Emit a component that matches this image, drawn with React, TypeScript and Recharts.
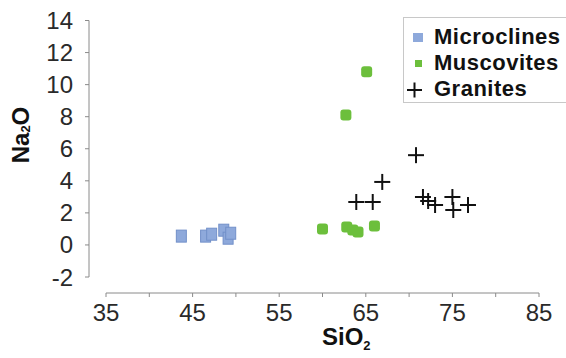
import { Legend, Scatter, ScatterChart, XAxis, YAxis } from "recharts";

const FONT = '"Liberation Sans", Arial, sans-serif';

const SERIES_NAMES = ["Microclines", "Muscovites", "Granites"];

const MICROCLINE_SIO2 = [43.7, 46.5, 47.2, 48.6, 49.1, 49.4];
const MICROCLINE_NA2O = [0.55, 0.55, 0.67, 0.92, 0.42, 0.73];

const MUSCOVITE_SIO2 = [60.0, 62.8, 63.5, 64.1, 66.0, 62.7, 65.1];
const MUSCOVITE_NA2O = [1.0, 1.12, 0.93, 0.81, 1.18, 8.1, 10.8];

const GRANITE_SIO2 = [70.8, 66.9, 63.9, 65.8, 71.6, 72.2, 73.0, 75.0, 75.1, 76.8];
const GRANITE_NA2O = [5.6, 3.93, 2.68, 2.68, 2.99, 2.74, 2.49, 2.99, 2.18, 2.49];

const X_TICKS = [35, 40, 45, 50, 55, 60, 65, 70, 75, 80, 85];
const Y_TICKS = [-2, 0, 2, 4, 6, 8, 10, 12, 14];

const BLUE = "#8ea9db";
const BLUE_EDGE = "#7290c9";
const GREEN = "#6cbf3c";
const AXIS = "#8a8a8a";

const toPoints = (xs: number[], ys: number[]) =>
  xs.map((x, i) => ({ x, y: ys[i] }));

type MarkProps = { cx?: number; cy?: number };

function SquareMark({ cx, cy }: MarkProps) {
  if (cx == null || cy == null) return null;
  return (
    <rect
      x={cx - 5}
      y={cy - 6}
      width={10}
      height={12}
      fill={BLUE}
      stroke={BLUE_EDGE}
      strokeWidth={1}
    />
  );
}

function GreenMark({ cx, cy }: MarkProps) {
  if (cx == null || cy == null) return null;
  return (
    <rect x={cx - 5.5} y={cy - 5.5} width={11} height={11} rx={3} fill={GREEN} />
  );
}

function PlusMark({ cx, cy }: MarkProps) {
  if (cx == null || cy == null) return null;
  return (
    <g stroke="#111" strokeWidth={2}>
      <line x1={cx - 8} y1={cy} x2={cx + 8} y2={cy} />
      <line x1={cx} y1={cy - 8} x2={cx} y2={cy + 8} />
    </g>
  );
}

function LegendIcon({ index }: { index: number }) {
  return (
    <svg width={30} height={20}>
      {index === 0 && <rect x={9} y={6} width={10} height={9} fill={BLUE} />}
      {index === 1 && <rect x={11} y={7} width={7} height={7} fill={GREEN} />}
      {index === 2 && (
        <g stroke="#111" strokeWidth={2}>
          <line x1={3} y1={11} x2={18} y2={11} />
          <line x1={10.5} y1={3.5} x2={10.5} y2={18.5} />
        </g>
      )}
    </svg>
  );
}

function LegendBox() {
  return (
    <div
      style={{
        boxSizing: "border-box",
        width: 163,
        height: 86,
        border: "1px solid #c8c8c8",
        borderRight: "none",
        background: "#fff",
        paddingTop: 6,
        fontFamily: FONT,
        fontWeight: 700,
        fontSize: 22,
        color: "#111",
      }}
    >
      {SERIES_NAMES.map((name, i) => (
        <div
          key={name}
          style={{ display: "flex", alignItems: "center", height: 26 }}
        >
          <LegendIcon index={i} />
          <span style={{ letterSpacing: 0.5 }}>{name}</span>
        </div>
      ))}
    </div>
  );
}

function XTitle() {
  return (
    <text
      x={322}
      y={345}
      fontFamily={FONT}
      fontWeight={700}
      fontSize={24}
      fill="#111"
    >
      SiO
      <tspan fontSize={13} dy={5}>
        2
      </tspan>
    </text>
  );
}

function YTitle() {
  return (
    <text
      x={20}
      y={135}
      transform="rotate(-90, 20, 135)"
      textAnchor="middle"
      dominantBaseline="central"
      fontFamily={FONT}
      fontWeight={700}
      fontSize={24}
      fill="#111"
    >
      Na
      <tspan fontSize={13} dy={5}>
        2
      </tspan>
      <tspan dy={-5}>O</tspan>
    </text>
  );
}

export default function App() {
  const tickStyle = { fontFamily: FONT, fontSize: 24, fill: "#2a2a2a" };

  return (
    <div style={{ position: "absolute", left: 0, top: 0, background: "#fff" }}>
      <ScatterChart
        width={566}
        height={358}
        margin={{ top: 20.5, right: 27, bottom: 0, left: 0 }}
      >
        <XAxis
          type="number"
          dataKey="x"
          domain={[35, 85]}
          ticks={X_TICKS}
          interval={0}
          padding={{ left: 17, right: 0 }}
          height={65}
          stroke={AXIS}
          axisLine={{ stroke: AXIS, strokeDasharray: "0 17 433 0" }}
          tickLine={{ stroke: AXIS }}
          tickSize={4}
          tickMargin={7}
          tick={tickStyle}
          tickFormatter={(v: number) => ((v - 35) % 10 === 0 ? String(v) : "")}
          label={{ content: () => <XTitle /> }}
        />
        <YAxis
          type="number"
          dataKey="y"
          domain={[-2, 14]}
          ticks={Y_TICKS}
          interval={0}
          padding={{ top: 0, bottom: 16 }}
          width={89}
          stroke={AXIS}
          axisLine={{ stroke: AXIS, strokeDasharray: "256.5 16" }}
          tickLine={{ stroke: AXIS }}
          tickSize={4}
          tickMargin={12}
          tick={tickStyle}
          label={{ content: () => <YTitle /> }}
        />
        <Scatter
          name={SERIES_NAMES[0]}
          data={toPoints(MICROCLINE_SIO2, MICROCLINE_NA2O)}
          shape={(p: MarkProps) => <SquareMark cx={p.cx} cy={p.cy} />}
          isAnimationActive={false}
        />
        <Scatter
          name={SERIES_NAMES[1]}
          data={toPoints(MUSCOVITE_SIO2, MUSCOVITE_NA2O)}
          shape={(p: MarkProps) => <GreenMark cx={p.cx} cy={p.cy} />}
          isAnimationActive={false}
        />
        <Scatter
          name={SERIES_NAMES[2]}
          data={toPoints(GRANITE_SIO2, GRANITE_NA2O)}
          shape={(p: MarkProps) => <PlusMark cx={p.cx} cy={p.cy} />}
          isAnimationActive={false}
        />
        <Legend
          layout="vertical"
          align="center"
          verticalAlign="middle"
          wrapperStyle={{ top: 17, left: 403, width: 163, height: 86 }}
          content={() => <LegendBox />}
        />
      </ScatterChart>
    </div>
  );
}
